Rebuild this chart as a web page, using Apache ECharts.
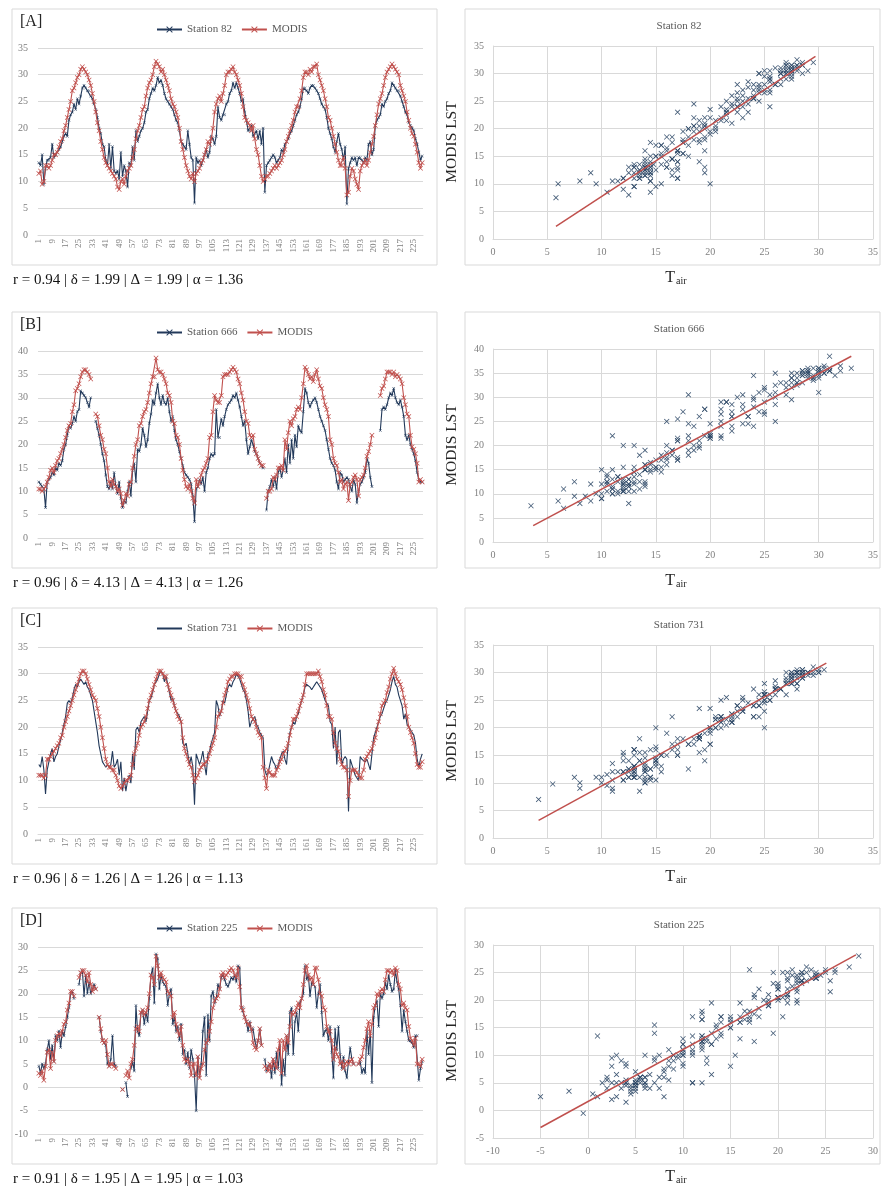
<!DOCTYPE html>
<html><head><meta charset="utf-8">
<script src="https://cdn.jsdelivr.net/npm/echarts/dist/echarts.min.js"></script>
<style>html,body{margin:0;padding:0;background:#fff}#c{width:881px;height:1186px}</style>
</head><body><div id="c"></div><script>
// ---------- DATA ----------
const stationNames = ['Station 82', 'Station 666', 'Station 731', 'Station 225'];
const panelTags = ['[A]', '[B]', '[C]', '[D]'];
const captions = [
  'r = 0.94 | δ = 1.99 | Δ = 1.99 | α = 1.36',
  'r = 0.96 | δ = 4.13 | Δ = 4.13 | α = 1.26',
  'r = 0.96 | δ = 1.26 | Δ = 1.26 | α = 1.13',
  'r = 0.91 | δ = 1.95 | Δ = 1.95 | α = 1.03'
];
const days = []; for (let i = 1; i <= 230; i++) days.push(String(i));

const sA = [13.5,13,15,9.5,12.5,14,14,14.5,17,14.5, 15,15.5,16,16.5,17.5,18.5,19,18.5,21.5,22.5, 23,24.5,23.5,25.5,24.5,26,27.5,28,27.5,27,
 27,26,25.5,24.5,23.5,22,20,19,17,16.5, 14,13,17,12.5,16.5,12,11.5,12,10.5,15.5, 11,13,12,9,13.5,13,16.5,14,19.5,17.5,
 18.5,19.5,20,21,23,23.5,25.5,26.5,27.5,27, 28,29.5,28.5,29,28,26.5,25.5,25,24.5,24, 23.5,22.5,21.5,21,19.5,17.5,17,16.5,16,19.5,
 17,14.5,14,6,14.5,13.5,14,13,14,15, 16,14.5,15.5,18.5,18,17,18.5,24,22,21.5, 22.5,22.5,24.5,25,26.5,27,28.5,27.5,28.5,27.5,
 26.5,25,25.5,23,21.5,19.5,19.5,20.5,18.5,19, 19.5,18,19.5,17,20,8,13,13.5,14,14.5, 15,14.5,13.5,14,14.5,16,15.5,17,17.5,18,
 19,19.5,20.5,21.5,22.5,23,24,25.5,27.5,27.5, 27,26.5,27.5,28,28,27.5,27,26.5,25.5,24.5, 24,23.5,22,20,19,18,16.5,15.5,17.5,19,
 17,16,14,16.5,5.8,12.5,13.5,14.5,14,14.5, 13,14.5,14.5,14,13.5,14.5,14,17,17.5,15, 16,20.5,21.5,22,22.5,24.5,24,25,25.5,26.5,
 27,28.5,28,27.5,27,27,26,25,24,23, 22.5,21,20.5,20,19.5,18,17,15.5,14,14.8];
const mA = [11.5,12,9.5,10,13,13,12.5,13,14,15, 15,15.5,16.5,17.5,18,19.5,20.5,22,23.5,25, 27,27.5,28.5,29.5,30,31,31.5,31,30.5,30,
 29,28,26.5,25,23,21,19.5,17.5,16,14.5, 13.5,13,12.5,12,11.5,11,10.5,9,8.5,10, 10.5,9.5,11,12,12.5,13,14.5,16,18,19.5,
 20.5,22,23.5,24,26,27.5,28.5,29,30,31.5, 32.5,32,31.5,30.5,31,30,29,28,27,25.5, 24.5,24,23,22,20,17.5,16,14.5,13,12,
 11,10.5,11.5,10,11.5,12,12.5,13.5,14,15, 16,17.5,17,18,20,23,24.5,25.5,26,25, 26.5,28,30,30.5,30.5,31,31.5,30.5,30,29,
 28,26.5,24,22,21.5,21,20.5,19.5,20.5,18, 16,15,13,11,10,10.5,11,11,11.5,12, 12.5,13,12.5,13,13.5,14,15,16,17.5,18.5,
 19.5,20.5,21.5,23,24,24,25.5,27,29.5,30.5, 30.5,30,31,30.5,31.5,31.5,32,30,29,28, 27,25.5,24,22,21.5,20,18.5,17,15.5,14,
 13,13,14.5,12.5,7.5,8,11,12.5,12,10.5, 9.5,8.5,12,13,13.5,14,13,14,15.5,17, 18.5,20.5,22.5,24.5,25.5,26.5,28,29.5,30.5,31,
 31.5,32,31.5,31,30.5,30,28,27,26,25, 23,21.5,20,19,18.5,17,15.5,13.5,12.5,13.5];

const sB = [12,11.5,11,10.5,6.5,12,12.5,13,14,13.5, 15,14.5,16,15.5,16.5,19,20,22,24,23.5, 24.5,26,25,27,27.5,31.5,31,30.5,30,29,
 28,30,null,null,25,23.5,22,20,18,16.5, 13.5,11,10.5,12,10.5,14,11,9.5,12,8.5, 6.5,8,7.5,10,12,9,14.5,16,12,19,
 18.5,20,23.5,22,19.5,21,24.5,26.5,29.5,28.5, 31,33,30,28.5,30.5,29,28.5,30,27,25, 26,23,21,20,18.5,17,15.5,14,13.5,13,
 12.5,11.5,9,3.5,10.5,11,12.5,11.5,13,10, 14,15,17,18,17.5,18,27.5,21.5,21.5,25.5, 24,26,27.5,28.5,29,29.5,30.5,30,31,29.5,
 28,26,24,25,21,18,19.5,21,20,18.5, 18,17,16,15.5,15,null,6,10,11,12.5, 11,13,10.5,14,15,13,14.5,17,14,20,
 16,21,17,22,19.5,24,23,22.5,27,32, 31,29,28,29,29.5,30,29,27.5,26,25, 24,23,21,19,17,16,15.5,14.5,12,10.5,
 14,13.5,12,12.5,13,12.5,11,10,12.5,11.5, 7.5,10,11.5,12,13,14,17,16,13,11, null,null,null,null,23,27.5,28,27.5,28.5,30,
 31,30.5,32,30,29,28.5,29.5,28,26,22, 21,22,20,19,18,16.5,14,12.5,12,12];
const mB = [10.5,10.5,10,10.5,11,12,13,14.5,15,14, 15.5,16.5,17,18,19,20,21.5,23,24,24.5, 27,28.5,31.5,32,33,34.5,35.5,36,36,35.5,
 35,34,null,null,26.5,26,24,22,21,19, 18,15,12,11,12.5,11.5,11,10,10.5,9.5, 7,8,9.5,9,11.5,12,15,17.5,20,21,
 24,24.5,26,27,27.5,29,31,33,34.5,34.5, 38.5,36,35.5,35.5,35,34,33,31,30.5,29, 25,24.5,22,21.5,20,17,14.5,12.5,11,10.5,
 11.5,10,8.5,7.5,12.5,11,12,13.5,14.5,15, 16,17,21.5,22,27,30.5,29.5,29,29,30.5, 34.5,35,35,35,35.5,36,36.5,36,35.5,34,
 33,31,29.5,27,25,24.5,22,21.5,22,19, 18,17,16,15.5,15.5,null,8.5,10,10,10.5, 13,12.5,13.5,15,15,15.5,14.5,21,19,22.5,
 25,24,25.5,26,27.5,28,27.5,30,33,36.5, 36,35,34,34.5,33.5,35,36,34,32.5,32, 30,28.5,27.5,26,21,20,17,16,15.5,14,
 12,12.5,10.5,11.5,12,8,11.5,12,13,13.5, 12.5,9,12.5,13,13.5,15,17.5,18.5,20,22, null,null,null,null,30.5,32,32.5,34,35.5,35.5,
 35.5,35,35.5,34.5,35,34.5,34,33,30,28.5, 26.5,26,22,19.5,19,18,16,12,12.5,12];

const sC = [13,12.5,14.5,12,7.5,12,13.5,15,16,13.5, 14.5,15,16.5,17.5,19,20.5,22,24.5,25,24.5, 25.5,27,28,27.5,28.5,29,28.5,28,28.5,27.5,
 27,26,25,23,21,19,16.5,15,13.5,13, 12.5,13,12.5,13,15.5,12.5,13,14,11,13.5, 8,10.5,8,10,11,9.5,15,12,19.5,20,
 19,21,21.5,22,21,23,25,25.5,26.5,28, 28.5,29,30,30.5,30,28.5,29.5,28,26.5,25, 25.5,24,23,22.5,22,21,17,16.5,17,15,
 13,14.5,12.5,5.5,15,14,13,14,15.5,13, 11,15,15.5,17,18,19,25,24,22,23, 25,24.5,26,27.5,28,27.5,28.5,29,30,29.5,
 29,28,27,26.5,25,23,20,21,21.5,22, 20.5,20,19,18.5,18,12,11,11.5,13,14.5, 13.5,13,12,13,14,15,15.5,14,13,17,
 19,20,21,20.5,22,22.5,24,25,26,27.5, 28,28,27.5,27,27.5,28,28.5,28.5,27.5,27, 26,25,24.5,24,21,20.5,16,20,13,19,
 19.5,13,14,14.5,14,4.2,14,13,12,11, 10.5,10,14.5,14,14,13.5,14,13,12,15, 18,19,20,21,22,22.5,23.5,24.5,25,26,
 27,28.5,29.5,28,27.5,26,25,24,21.5,22.5, 20.5,20,19.5,19,18.5,17,14,12.5,14,15];
const mC = [11,11,11,10.5,11,14,14,14.5,15,15.5, 16,16.5,17,18,18.5,20,21,22,23,24, 25,26,27,28,29,30,30.5,30.5,30,29,
 28,27,26,25.5,25,23.5,22,20,18,16, 14,13,12.5,12.5,12,12,11,10,9,8.5, 9,9.5,10,10,10.5,11,13,15,16,17,
 18.5,20,20.5,21,22,23.5,25,26,27,28, 29,30,30.5,30.5,30,29.5,29.5,28,27,26, 25,24,23,22,21.5,21,18,16,15,14,
 13,12.5,11,9.8,10.5,11,12,12.5,13,13, 13.5,14,15,16,17,18,20,22,22.5,23, 24.5,26,27,28.5,29,29.5,29.5,30,30,30,
 29.5,29.5,28,27,26,25,23.5,22,21.5,21, 20,19,18.5,18,12.5,10.5,8.5,12,11.5,11, 11,11,12,12.5,13.5,14,15,15.5,16,17,
 18.5,20,21.5,21.5,22,23,24,25,26,28, 30,30,30,30,30,30,30,30.5,29.5,28.5, 27,26,24,22,22,21.5,19,17,16,15.5,
 14,13,12.5,12.5,12,7,10,12,12,12, 11.5,11,10.5,10.5,12,14,14.5,15,15.5,16, 17,18,19.5,21,22.5,24,24.5,25,26.5,27.5,
 29,30,31,30,29,28.5,28,27,25.5,24, 22,20,19,18,17,15,13,12.5,12.5,13.5];

const sD = [4.5,3,5,4,5,8,10,6,9,5.5, 11,10,12,8.5,12,11,13,15,17,20, 20.5,19,null,null,22,24.5,25,19.5,24,20,
 22.5,20,21,22,21,null,15,12,10,9.5, 9,5,4.5,6,11,5,4.5,null,null,null, -0.5,null,1,-2,null,4,5.5,3.5,17.5,12,
 11,16,16.5,13.5,16,14,19,24,25.5,18, 28.5,27.5,21,24,22.5,22,21.5,17.5,20,21, 13.5,15,12,13,10,13.5,7,8,5,7.5,
 4,8,6,2.5,-5,6.5,2.5,5,12,15, 2.5,15.5,10,19.5,20.5,18,19,22,21,23.5, 24,23,22,21.5,22.5,23.5,23,24,22.5,26,
 25.5,17,17,15,14,12,14,12,12.5,10, 8.5,10,12.5,9,null,6,3.5,4.5,5,2, 6,3,7.5,4,9,0.5,6,2.5,11,7,
 16,17,7,14,16,12,18,19,20,26, 23,24,19.5,22.5,22,21.5,17,20,22,16, 11,12,12.5,10,13,7.5,2,12.5,8,13,
 7,4,6.5,3.5,2,5.5,8.5,6,5,null, null,5,5.5,3,4,3,12,7,12,1, 15,17.5,18.5,13,20,19,20,22.5,21,24,
 22,20.5,21,25,22.5,21,17.5,12,16.5,14, 12,10,10,9.5,8.5,11,11,1.5,4,5.5];
const mD = [3,2.5,3.5,1.5,4.5,7.5,8,4,7.5,5.5, 10,11,11.5,11,12,13.5,14,16.5,18,20.5, 20.5,19.5,null,null,23.5,24.5,25,25,24,22.5,
 24.5,22,20.5,21.5,21,null,15,12.5,10,9.5, 10,7,4.5,5,5,4.5,4,null,null,null, -0.5,null,2.5,3.5,2,5,6,9,12.5,13,
 12,16,16.5,15.5,16,17,20,24,23.5,22, 28,26,23.5,24.5,23.5,23,22.5,20.5,20,19.5, 15,16,13.5,12,11,13,9,6,5.5,6,
 5,2.5,5,5,2.5,6.5,2,4,5,8, 9.5,10,12,14,17,18.5,19,19.5,21,24, 24.5,23.5,24,24.5,25,25.5,25,24,23.5,25.5,
 21.5,17,16.5,15,14,13.5,13.5,12.5,9.5,8.5, 8,10,12.5,9,null,4.5,4,3.5,5,4, 6,5,4,8,10,3,10,8,11,9.5,
 13,16,15.5,16,17,18,17,19,22,25, 26,24,23,23.5,22,25.5,25.5,23,20,19.5, 17,16.5,13,12,12,10,6,8.5,7,6.5,
 5,5.5,4,5,5.5,5,5.5,6,5,null, null,5,6,6.5,8.5,10,12.5,14,11,13.5, 17,17.5,20,19.5,20.5,21,20.5,23,25,25,
 24.5,25,24,25.5,25,22,21,17.5,18,17, 16.5,13,10.5,10,9,10.5,5,5,4.5,6];

// regression line end points [[x0,y0],[x1,y1]]
const trendA = [[5.8, 2.3], [29.7, 33.1]];
const trendB = [[3.7, 3.4], [33.0, 38.5]];
const trendC = [[4.2, 3.2], [30.7, 31.7]];
const trendD = [[-5.0, -3.1], [28.2, 28.2]];

// axis ranges [min, max, interval]
const tsY = [[0, 35, 5], [0, 40, 5], [0, 35, 5], [-10, 30, 5]];
const scX = [[0, 35, 5], [0, 35, 5], [0, 35, 5], [-10, 30, 5]];
const scY = [[0, 35, 5], [0, 40, 5], [0, 35, 5], [-5, 30, 5]];

// ---------- CHART ----------
const stationSeries = [sA, sB, sC, sD];
const modisSeries = [mA, mB, mC, mD];
const trends = [trendA, trendB, trendC, trendD];
const stationHasSymbol = [true, true, false, true];
const rowTop = [0, 303, 599, 899];

const FONT = '"Liberation Serif","Times New Roman",serif';
const NAVY = '#22395a';
const RED = '#c0504d';
const GRID = '#d9d9d9';
const LABEL = '#7f7f7f';
const XSYM = 'path://M0,1L1,0L5,4L9,0L10,1L6,5L10,9L9,10L5,6L1,10L0,9L4,5Z';

function pairs(s, m) {
  const out = [];
  for (let i = 0; i < s.length; i++) if (s[i] != null && m[i] != null) out.push([s[i], m[i]]);
  return out;
}

const grid = [], xAxis = [], yAxis = [], series = [], legend = [], graphic = [];

for (let k = 0; k < 4; k++) {
  const t = rowTop[k];
  grid.push({left: 38, top: t + 48, width: 385, height: 187});
  grid.push({left: 493, top: t + 46, width: 381, height: 193});

  xAxis.push({
    type: 'category', gridIndex: 2 * k, data: days, boundaryGap: true,
    axisLine: {show: true, onZero: false, lineStyle: {color: GRID}},
    axisTick: {show: false},
    axisLabel: {interval: 7, rotate: 90, fontSize: 9, color: LABEL, fontFamily: FONT, margin: 4}
  });
  xAxis.push({
    type: 'value', gridIndex: 2 * k + 1, min: scX[k][0], max: scX[k][1], interval: scX[k][2],
    axisLine: {show: true, onZero: false, lineStyle: {color: GRID}},
    axisTick: {show: false},
    splitLine: {show: true, lineStyle: {color: GRID}},
    axisLabel: {fontSize: 10, color: LABEL, fontFamily: FONT, margin: 8}
  });
  yAxis.push({
    type: 'value', gridIndex: 2 * k, min: tsY[k][0], max: tsY[k][1], interval: tsY[k][2],
    axisLine: {show: false}, axisTick: {show: false},
    splitLine: {show: true, lineStyle: {color: GRID}},
    axisLabel: {fontSize: 10, color: LABEL, fontFamily: FONT, margin: 10}
  });
  yAxis.push({
    type: 'value', gridIndex: 2 * k + 1, min: scY[k][0], max: scY[k][1], interval: scY[k][2],
    axisLine: {show: true, onZero: false, lineStyle: {color: GRID}}, axisTick: {show: false},
    splitLine: {show: true, lineStyle: {color: GRID}},
    axisLabel: {fontSize: 10, color: LABEL, fontFamily: FONT, margin: 9}
  });

  series.push({
    name: stationNames[k], type: 'line', xAxisIndex: 2 * k, yAxisIndex: 2 * k,
    data: stationSeries[k], connectNulls: false,
    symbol: stationHasSymbol[k] ? XSYM : 'none', symbolSize: 3,
    showSymbol: stationHasSymbol[k], showAllSymbol: true,
    itemStyle: {color: NAVY}, lineStyle: {color: NAVY, width: 1.1}, z: 2
  });
  series.push({
    name: 'MODIS', type: 'line', xAxisIndex: 2 * k, yAxisIndex: 2 * k,
    data: modisSeries[k], connectNulls: false,
    symbol: XSYM, symbolSize: 5, showAllSymbol: true,
    itemStyle: {color: RED}, lineStyle: {color: RED, width: 1.1}, z: 3
  });
  series.push({
    name: 'scatter' + k, type: 'scatter', xAxisIndex: 2 * k + 1, yAxisIndex: 2 * k + 1,
    data: pairs(stationSeries[k], modisSeries[k]),
    symbol: XSYM, symbolSize: 5.5, itemStyle: {color: '#2c4766', opacity: 0.9}, z: 2
  });
  series.push({
    name: 'trend' + k, type: 'line', xAxisIndex: 2 * k + 1, yAxisIndex: 2 * k + 1,
    data: trends[k], symbol: 'none', lineStyle: {color: RED, width: 1.5}, z: 4
  });

  const stationLegend = stationHasSymbol[k]
    ? stationNames[k]
    : {name: stationNames[k], itemStyle: {opacity: 0}};
  legend.push({
    data: [stationLegend, 'MODIS'], left: 151, top: t + 19, itemWidth: 25, itemHeight: 8, itemGap: 9,
    textStyle: {fontFamily: FONT, fontSize: 11, color: '#595959'}, selectedMode: false
  });

  // frames
  graphic.push({type: 'rect', shape: {x: 12, y: t + 9, width: 425, height: 256},
    style: {fill: 'none', stroke: GRID, lineWidth: 1}, silent: true});
  graphic.push({type: 'rect', shape: {x: 465, y: t + 9, width: 415, height: 256},
    style: {fill: 'none', stroke: GRID, lineWidth: 1}, silent: true});
  // panel tag
  graphic.push({type: 'text', x: 20, y: t + 22,
    style: {text: panelTags[k], font: '16px ' + FONT, fill: '#262626', textVerticalAlign: 'middle'}});
  // caption
  graphic.push({type: 'text', x: 13, y: t + 280,
    style: {text: captions[k], font: '15px ' + FONT, fill: '#111', textVerticalAlign: 'middle'}});
  // scatter title
  graphic.push({type: 'text', x: 679, y: t + 26,
    style: {text: stationNames[k], font: '11px ' + FONT, fill: '#595959', textAlign: 'center', textVerticalAlign: 'middle'}});
  // y axis name
  graphic.push({type: 'text', x: 452, y: t + 142, rotation: Math.PI / 2,
    style: {text: 'MODIS LST', font: '15.5px ' + FONT, fill: '#262626', textAlign: 'center', textVerticalAlign: 'middle'}});
  // x axis name T_air
  graphic.push({type: 'text', x: 676, y: t + 278,
    style: {text: 'T{s|air}', font: '16px ' + FONT, fill: '#262626', textAlign: 'center', textVerticalAlign: 'middle',
      rich: {s: {fontSize: 10, fontFamily: FONT, fill: '#262626', padding: [6, 0, 0, 1]}}}});
}

const chart = echarts.init(document.getElementById('c'), null, {renderer: 'canvas'});
chart.setOption({
  animation: false,
  backgroundColor: '#ffffff',
  textStyle: {fontFamily: FONT},
  grid, xAxis, yAxis, series, legend, graphic
});
</script></body></html>
